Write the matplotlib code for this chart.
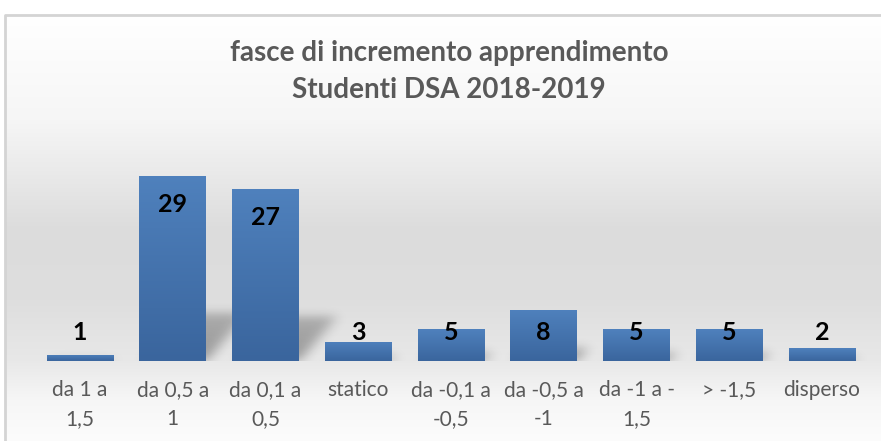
import numpy as np
import matplotlib
matplotlib.use("Agg")
import matplotlib.pyplot as plt
from matplotlib.patches import Rectangle
from matplotlib.colors import LinearSegmentedColormap

categories = ["da 1 a\n1,5", "da 0,5 a\n1", "da 0,1 a\n0,5", "statico", "da -0,1 a\n-0,5",
              "da -0,5 a\n-1", "da -1 a -\n1,5", "> -1,5", "disperso"]
values = [1, 29, 27, 3, 5, 8, 5, 5, 2]
title = "fasce di incremento apprendimento\nStudenti DSA 2018-2019"

FONT = ["Lato", "DejaVu Sans"]
W, H = 881, 441
fig = plt.figure(figsize=(W / 100, H / 100), dpi=100)

# background gradient panel
bg = fig.add_axes([0, 0, 1, 1], zorder=0)
bg.set_xlim(0, W); bg.set_ylim(H, 0); bg.axis("off")
ys = np.array([14, 120, 230, 300, 361, 400, 441])
cs = np.array([255, 246, 220, 222, 232, 246, 252]) / 255
yy = np.linspace(0, 441, 442)
col = np.interp(yy, ys, cs)
img = np.repeat(col[:, None], 2, axis=1)
bg.imshow(np.dstack([img, img, img]), extent=[4, W + 2, H, 0], aspect="auto", interpolation="bilinear")
bg.add_patch(Rectangle((0, 0), W, 14, color="white", zorder=2))
bg.add_patch(Rectangle((0, 0), 4, H, color="white", zorder=2))
bg.plot([4.5, 4.5, W], [H, 14.5, 14.5], color="#d4d4d4", lw=2, zorder=3)

ax = fig.add_axes([0.0381, 0.1814, 0.9476, 0.4631], zorder=1)
ax.patch.set_alpha(0)
n = len(values)
x = np.arange(n)
bw = 0.72

# soft perspective shadow (blurred parallelograms)
gx = np.linspace(-0.5, n - 0.5, 1200)
gy = np.linspace(0, 10, 240)
GX, GY = np.meshgrid(gx, gy)
mask = np.zeros_like(GX)
for xi, v in zip(x, values):
    hs = 0.26 * v
    shear = 0.058
    left = xi - bw / 2 + 0.05 + shear * GY
    right = xi + bw / 2 + shear * GY
    inside = (GX >= left) & (GX <= right) & (GY <= hs)
    fade = np.clip(1 - 0.3 * GY / max(hs, 1e-6), 0, 1)
    mask = np.maximum(mask, inside * fade)
def blur(a, k, axis):
    ker = np.exp(-0.5 * (np.arange(-3 * k, 3 * k + 1) / k) ** 2)
    ker /= ker.sum()
    return np.apply_along_axis(lambda r: np.convolve(r, ker, mode="same"), axis, a)
mask = blur(blur(mask, 9, 1), 18, 0)
shadow = np.zeros(mask.shape + (4,))
shadow[..., 3] = np.clip(mask * 0.34, 0, 1)
ax.imshow(shadow, extent=[-0.5, n - 0.5, 0, 10], origin="lower", aspect="auto", zorder=1,
          interpolation="bilinear")

cmap = LinearSegmentedColormap.from_list("b", ["#3a659d", "#4f81bd"])
grad = np.linspace(0, 1, 256)[:, None]
bars = ax.bar(x, values, width=bw, color="#4a7ab5", zorder=2)
for b in bars:
    bx, by, bwid, bh = b.get_x(), b.get_y(), b.get_width(), b.get_height()
    im = ax.imshow(grad, extent=[bx, bx + bwid, by, by + bh], origin="lower", cmap=cmap,
                   aspect="auto", zorder=3)
    im.set_clip_path(b)
ax.set_xlim(-0.5, n - 0.5)
ax.set_ylim(0, 32)

for xi, v in zip(x, values):
    yl = max(v - 4.55, 4.4)
    ax.text(xi, yl, str(v), ha="center", va="center", fontsize=18, fontweight="bold",
            color="black", family=FONT, zorder=5)

ax.set_xticks(x)
ax.set_xticklabels(categories, fontsize=15, color="#595959", family=FONT, linespacing=1.55)
ax.tick_params(axis="x", length=0, pad=14)
ax.set_yticks([])
for s in ax.spines.values():
    s.set_visible(False)

fig.text(0.51, 0.91, title, ha="center", va="top", fontsize=20, fontweight="bold",
         color="#595959", family=FONT, linespacing=1.55)

fig.savefig("out.png", dpi=100)
